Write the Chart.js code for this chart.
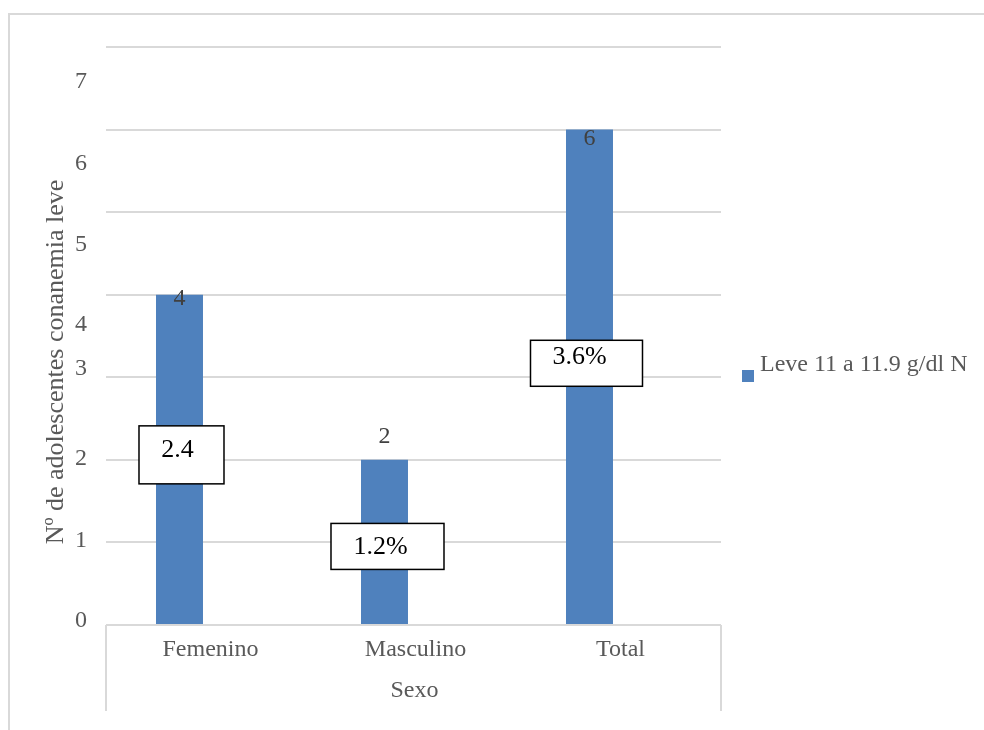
<!DOCTYPE html>
<html>
<head>
<meta charset="utf-8">
<script src="https://cdn.jsdelivr.net/npm/chart.js@4"></script>
<style>
  html, body { margin: 0; padding: 0; background: #ffffff; }
  canvas { display: block; }
</style>
</head>
<body>
<canvas id="chart" width="984" height="730"></canvas>
<script>
// Categories, counts and percentages per sex
const categories = ['Femenino', 'Masculino', 'Total'];
const counts = [4, 2, 6];
const percentValues = [2.4, 1.2, 3.6];
const percentLabels = ['2.4', '1.2%', '3.6%'];
const yTicks = [0, 1, 2, 3, 4, 5, 6, 7];
const seriesName = 'Leve 11 a 11.9 g/dl N';
const yTitle = 'Nº de adolescentes conanemia leve';
const xTitle = 'Sexo';

const FONT = "'Liberation Serif', 'Times New Roman', serif";
const GREY = '#595959';
const LINE = '#d9d9d9';
const BAR = '#4f81bd';

// Layout of the hand-placed annotation pieces (pixel nudges)
const tickNudge = [-6, -3, -3, -10, 28, 31, 32, 33];
const valueNudge = [2.5, -25, 7];
const boxLayout = [
  { dx: 2, dy: -5, w: 85, h: 58, tx: -4, ty: -7 },
  { dx: 3, dy: 4, w: 113, h: 46, tx: -7, ty: -1 },
  { dx: -3, dy: -14, w: 112, h: 46, tx: -7, ty: -8 }
];

const decorations = {
  id: 'decorations',
  beforeDraw(chart) {
    const ctx = chart.ctx;
    ctx.save();
    ctx.fillStyle = '#ffffff';
    ctx.fillRect(0, 0, chart.width, chart.height);
    ctx.strokeStyle = LINE;
    ctx.lineWidth = 2;
    ctx.strokeRect(9, 14, 1200, 1000);
    ctx.restore();
  },
  afterDatasetsDraw(chart) {
    const ctx = chart.ctx;
    const y = chart.scales.y;
    const bars = chart.getDatasetMeta(0).data;
    ctx.save();
    // count labels
    ctx.font = '24px ' + FONT;
    ctx.fillStyle = '#404040';
    ctx.textAlign = 'center';
    ctx.textBaseline = 'alphabetic';
    counts.forEach((v, i) => {
      const top = y.getPixelForValue(v);
      ctx.fillText(String(v), bars[i].x, top + valueNudge[i] + 8);
    });
    // boxed percentage labels
    percentLabels.forEach((txt, i) => {
      const b = boxLayout[i];
      const cx = bars[i].x + b.dx;
      const cy = y.getPixelForValue(counts[i] / 2) + b.dy;
      ctx.fillStyle = '#ffffff';
      ctx.fillRect(cx - b.w / 2, cy - b.h / 2, b.w, b.h);
      ctx.strokeStyle = '#000000';
      ctx.lineWidth = 1.5;
      ctx.strokeRect(cx - b.w / 2, cy - b.h / 2, b.w, b.h);
      ctx.fillStyle = '#000000';
      ctx.font = '26px ' + FONT;
      ctx.fillText(txt, cx + b.tx, cy + b.ty + 9);
    });
    ctx.restore();
  },
  afterDraw(chart) {
    const ctx = chart.ctx;
    const y = chart.scales.y;
    const x = chart.scales.x;
    const area = chart.chartArea;
    ctx.save();
    // y tick labels
    ctx.font = '24px ' + FONT;
    ctx.fillStyle = GREY;
    ctx.textAlign = 'right';
    ctx.textBaseline = 'alphabetic';
    yTicks.forEach((t, i) => {
      ctx.fillText(String(t), 87, y.getPixelForValue(t) + tickNudge[i] + 8);
    });
    // y axis title
    ctx.save();
    ctx.font = '26px ' + FONT;
    ctx.translate(63, 362);
    ctx.rotate(-Math.PI / 2);
    ctx.textAlign = 'center';
    ctx.textBaseline = 'alphabetic';
    ctx.fillText(yTitle, 0, 0);
    ctx.restore();
    // category frame under the axis
    ctx.strokeStyle = LINE;
    ctx.lineWidth = 2;
    ctx.beginPath();
    ctx.moveTo(area.left, area.bottom);
    ctx.lineTo(area.left, 711);
    ctx.moveTo(area.right, area.bottom);
    ctx.lineTo(area.right, 711);
    ctx.stroke();
    // category labels and axis title
    ctx.textAlign = 'center';
    categories.forEach((c, i) => {
      ctx.fillText(c, x.getPixelForValue(i) + 2, 656);
    });
    ctx.fillText(xTitle, (area.left + area.right) / 2 + 1, 697);
    // legend
    ctx.fillStyle = BAR;
    ctx.fillRect(742, 370, 12, 12);
    ctx.fillStyle = GREY;
    ctx.textAlign = 'left';
    ctx.fillText(seriesName, 760, 371);
    ctx.restore();
  }
};

new Chart(document.getElementById('chart'), {
  type: 'bar',
  data: {
    labels: categories,
    datasets: [
      {
        label: seriesName,
        data: counts,
        backgroundColor: BAR,
        borderWidth: 0,
        barPercentage: 0.81,
        categoryPercentage: 0.566
      },
      {
        label: 'Porcentaje',
        data: percentValues.map(p => p / 100),
        backgroundColor: 'rgba(0,0,0,0)',
        borderWidth: 0,
        barPercentage: 0.81,
        categoryPercentage: 0.566
      }
    ]
  },
  options: {
    responsive: false,
    animation: false,
    layout: { padding: { left: 106, right: 263, top: 47, bottom: 105 } },
    plugins: {
      legend: { display: false },
      tooltip: { enabled: false }
    },
    scales: {
      x: { display: false },
      y: {
        min: 0,
        max: 7,
        ticks: { display: false, stepSize: 1 },
        grid: { color: LINE, lineWidth: 2, drawTicks: false },
        border: { display: false }
      }
    }
  },
  plugins: [decorations]
});
</script>
</body>
</html>
